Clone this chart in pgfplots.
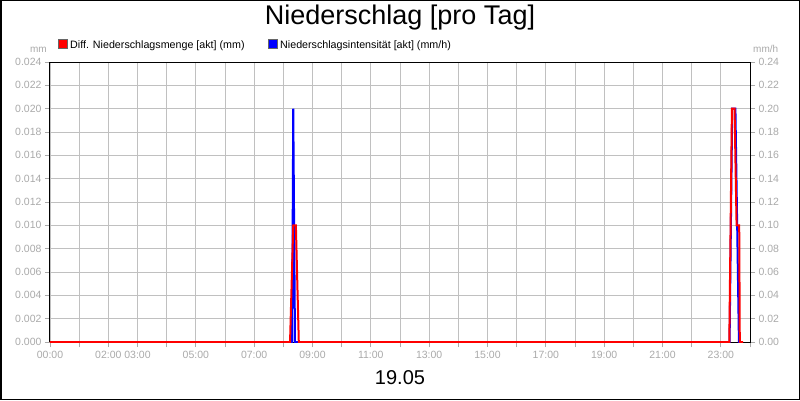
\documentclass[border=0pt]{standalone}
\usepackage{fontspec}
\setmainfont{Liberation Sans}
\usepackage{pgfplots}
\pgfplotsset{compat=1.18}

\definecolor{ticktext}{RGB}{170,170,170}
\definecolor{gridgray}{RGB}{192,192,192}

\pgfplotsset{
  niederschlag/.style={
    scale only axis, width=700pt, height=280pt,
    at={(50pt,58pt)}, anchor=south west,
    xmin=0, xmax=24, ymin=0,
    scaled y ticks=false,
    /pgf/number format/assume math mode=true,
    tick align=outside, major tick length=5pt,
    tick style={ticktext, line width=0.8pt},
    ticklabel style={font=\fontsize{10.5}{12}\selectfont, text=ticktext},
  }
}

\begin{document}
\begin{tikzpicture}[x=1pt,y=1pt]
\fill[white] (0,0) rectangle (800,400);

% mm/h axis: frame, grid, x labels, right ticks, blue series
\begin{axis}[niederschlag,
    ymax=0.24,
    xtick={0,1,...,24},
    xticklabels={00:00,,02:00,03:00,,05:00,,07:00,,09:00,,11:00,,13:00,,15:00,,17:00,,19:00,,21:00,,23:00,},
    xtick pos=bottom,
    ytick={0,0.02,...,0.241},
    ytick pos=right,
    yticklabel pos=right,
    yticklabel style={/pgf/number format/fixed, /pgf/number format/fixed zerofill, /pgf/number format/precision=2},
    xticklabel style={anchor=base, yshift=-11pt},
    grid=major,
    grid style={gridgray, line width=0.8pt},
    axis line style={black, line width=1pt},
  ]
  \addplot[blue, line width=2pt, sharp plot] coordinates {
    (0,0) (8.30,0) (8.34,0.20) (8.40,0)
    (23.30,0) (23.39,0.20) (23.50,0.20) (23.62,0) (23.75,0)
  };
\end{axis}

% mm axis: left ticks, red series on top
\begin{axis}[niederschlag,
    ymax=0.024,
    hide x axis,
    axis y line*=left,
    axis line style={black, line width=1pt},
    ytick={0,0.002,...,0.0241},
    yticklabel style={/pgf/number format/fixed, /pgf/number format/fixed zerofill, /pgf/number format/precision=3},
  ]
  \addplot[red, line width=2pt, sharp plot] coordinates {
    (0,0) (8.23,0) (8.34,0.010) (8.43,0.010) (8.53,0)
    (23.29,0) (23.38,0.020) (23.47,0.020) (23.54,0.010) (23.63,0.010) (23.65,0) (23.76,0)
  };
\end{axis}

% title, units, legend, date
\node[anchor=base, font=\fontsize{27}{30}\selectfont] at (400,375) {Niederschlag [pro Tag]};
\node[anchor=base east, inner sep=0pt, text=ticktext, font=\fontsize{10}{12}\selectfont] at (47,348) {mm};
\node[anchor=base west, inner sep=0pt, text=ticktext, font=\fontsize{10}{12}\selectfont] at (753,348) {mm/h};

\filldraw[fill=red, draw=black!60, line width=0.5pt] (58,352) rectangle (67,361);
\node[anchor=base west, inner sep=0pt, font=\fontsize{10.7}{12}\selectfont] at (70,352) {Diff. Niederschlagsmenge [akt] (mm)};
\filldraw[fill=blue, draw=black!60, line width=0.5pt] (268,352) rectangle (277,361);
\node[anchor=base west, inner sep=0pt, font=\fontsize{10.7}{12}\selectfont] at (280,352) {Niederschlagsintensität [akt] (mm/h)};

\node[anchor=base, font=\fontsize{20}{24}\selectfont] at (400,16) {19.05};

\draw[black, line width=1.5pt] (0.75,0.75) rectangle (799.25,399.25);
\pgfresetboundingbox
\useasboundingbox (0,0) rectangle (800,400);
\end{tikzpicture}
\end{document}
